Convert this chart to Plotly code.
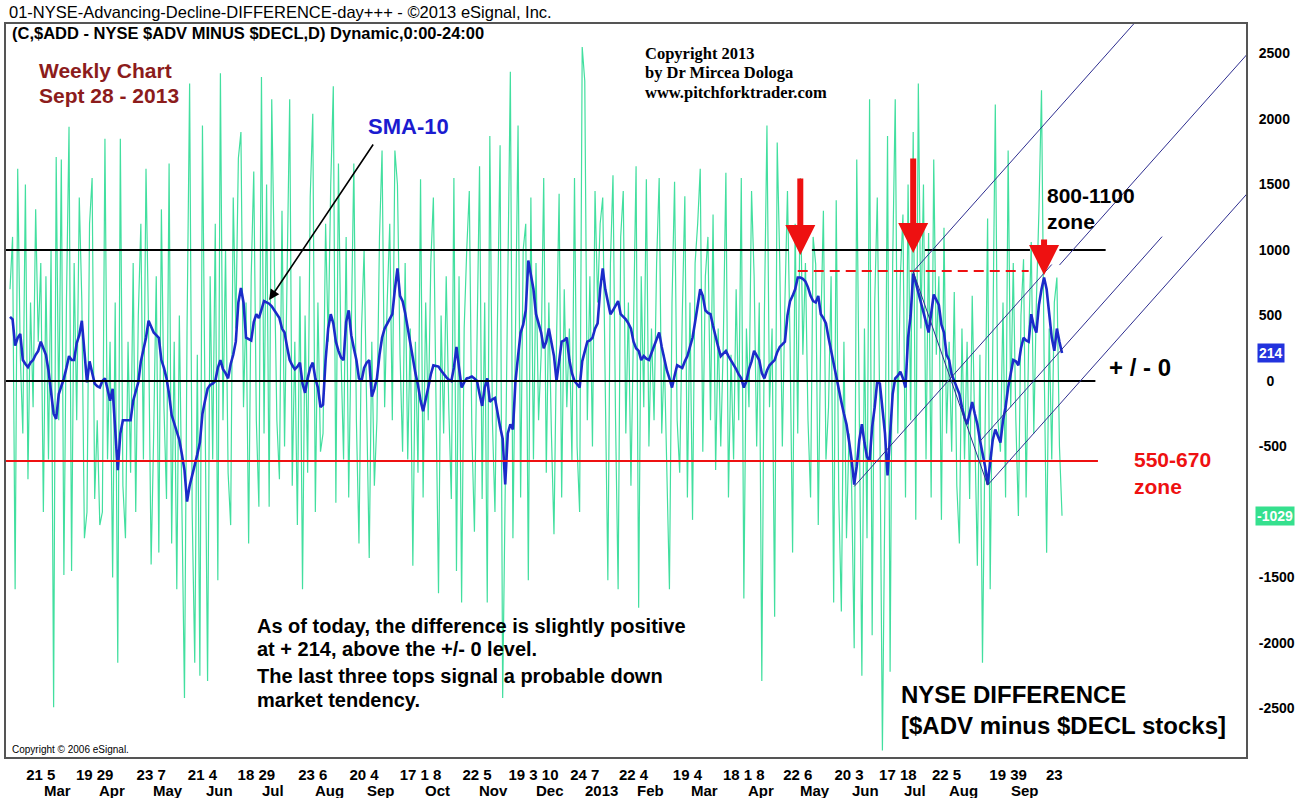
import plotly.graph_objects as go
import pandas as pd

# NYSE trading calendar, Feb 9 2012 - Sep 27 2013
holidays = ["2012-02-20", "2012-04-06", "2012-05-28", "2012-07-04", "2012-09-03",
            "2012-10-29", "2012-10-30", "2012-11-22", "2012-12-25", "2013-01-01",
            "2013-01-21", "2013-02-18", "2013-03-29", "2013-05-27", "2013-07-04",
            "2013-09-02"]
days = pd.bdate_range("2012-02-09", "2013-09-27")
days = days[~days.isin(pd.to_datetime(holidays))]
dates = [d.strftime("%Y-%m-%d") for d in days]

# daily $ADD (advancing minus declining issues), one list per month
add_2012_02 = [700, 1100, -1590, 1620, 200, -400, 1500, -750, 600, -200, 1310, 300, 900, -1000]
add_2012_03 = [800, -600, 1000, -2490, 1710, -300, 1690, -1480, 600, 1940, -1450, 900, -300, 1400,
               600, -1200, -1000, 1200, 1550, -900, -300, -1100]
add_2012_04 = [-1000, 1850, -600, 300, -1500, 600, -2150, 1850, -800, -1200, 300, -700, 900, -1000,
               500, 1200, -600, 1620, 400, -1400]
add_2012_05 = [-400, 800, -1310, 1310, -200, -900, 1660, -1240, 300, -1590, 500, -800, -2420, 400,
               2270, -1000, -2150, 200, -2250, 1950, -500, -2290]
add_2012_06 = [800, -600, 1200, -1520, 2350, -300, 1000, -700, -1100, 1400, 400, 1700, 1900, -200,
               600, -1240, 800, 1600, -300, -960, 2320]
add_2012_07 = [-400, 1500, -960, 2150, 800, -300, -750, 1300, -500, 900, 2150, -800, 300, -1100,
               800, -1590, 500, -700, 1400, 2040, -1000]
add_2012_08 = [600, -540, -400, 1200, 300, 1500, 2250, -930, 1660, 200, -600, 1100, -890, 600,
               1660, -300, -1240, 400, 1000, -200, -1350, 300, -800]
add_2012_09 = [-300, 1100, 1760, -200, 600, 1200, -300, 1760, 1500, 200, -540, 900, -600, 400,
               -1410, 300, -700, 1540, -890]
add_2012_10 = [600, -300, 900, 1400, -200, -1620, 500, -400, 800, -200, -900, 1550, -1450, 800,
               -1690, 400, 1000, 1450, -400, -1150, 300]
add_2012_11 = [1640, -900, 600, -1690, 1870, -300, -1000, 500, 1800, -2420, -800, 600, 2360, -1200,
               300, 1950, -890, 1000, 1200, -1520, 1400]
add_2012_12 = [-600, 900, -300, 200, 1550, -700, 600, -400, -1170, 300, 1430, -890, 700, -200,
               400, -610, 1550, -500, -1000, 2550]
add_2013_01 = [2290, -300, 800, -500, 1450, 600, 1200, 1400, -200, -1520, 900, 1570, -300, -1590,
               1100, 1450, -400, 600, -800, 300, 1640]
add_2013_02 = [-1730, 800, -200, 1540, -500, 400, -300, 900, 1550, -400, 200, -700, -1590, 600,
               1520, -300, -700, 500, 1410]
add_2013_03 = [-890, 600, -1060, 900, 1200, 1620, -540, 800, 1100, -300, 1270, -680, 400, -500,
               300, 1590, -890, 200, -600, 700]
add_2013_04 = [-300, 1550, -1660, 400, -200, 1450, 800, -500, 600, -2290, 500, 1950, -200, 400,
               -1800, 1820, 900, -500, 600, 1450, 300, -1310]
add_2013_05 = [1200, -400, 1550, 200, 900, -300, -890, 1100, 890, -1100, 400, 1300, -600, -200,
               800, -1690, 1380, -900, -1760, 300, -1200, -400]
add_2013_06 = [-800, -2040, 1690, -600, -2250, 400, -1200, 2150, -1940, 600, 1400, -300, -2820, -800,
               1870, -2220, 900, 2150, -400, 800]
add_2013_07 = [1270, -890, 1500, -300, 1900, -1060, 2270, 400, 1500, -600, 1130, -890, 1690, 200,
               800, -1060, 1170, -400, 300, -540, 680, -800]
add_2013_08 = [-1240, 400, -600, 300, -900, 650, -300, -1410, 200, -2150, -400, 1240, -1590, 400,
               2110, -300, -540, 600, -890, 1760, -200, 900]
add_2013_09 = [-300, -1030, 500, 930, -890, 300, 1060, -400, 600, 1300, 2220, 200, -1310, 400,
               -600, 600, 790, -500, -1029]

# SMA-10 of $ADD, as drawn
sma_2012_02 = [490, 470, 270, 330, 360, 160, 130, 105, 140, 160, 200, 230, 300, 250]
sma_2012_03 = [200, 80, -100, -250, -290, -100, -40, 20, 100, 190, 160, 160, 290, 350, 460, 230,
               -10, 150, 60, -20, -40, -50]
sma_2012_04 = [0, 20, -60, -150, -60, -400, -680, -400, -300, -300, -300, -300, -150, -80, -10,
               150, 250, 330, 460, 420]
sma_2012_05 = [370, 350, 330, 160, 100, 20, -100, -260, -330, -400, -450, -560, -680, -920, -800,
               -720, -650, -560, -470, -250, -150, -60]
sma_2012_06 = [-30, -20, 0, 100, 160, 90, 60, 20, 130, 200, 300, 600, 710, 600, 330, 320, 310,
               450, 510, 480, 540]
sma_2012_07 = [610, 600, 590, 570, 540, 510, 480, 400, 370, 260, 160, 120, 90, 110, 140, -20, -90,
               20, 100, 140, 20]
sma_2012_08 = [-50, -200, -180, 160, 400, 510, 440, 300, 230, 180, 160, 450, 540, 350, 250, 160,
               20, 0, 100, 140, 160, -120, -60]
sma_2012_09 = [20, 200, 330, 400, 440, 470, 510, 700, 860, 650, 610, 520, 400, 300, 180, 60, -30,
               -150, -230]
sma_2012_10 = [-150, -50, 50, 120, 115, 110, 80, 50, 30, 10, 0, 100, 260, 100, -50, -10, 20, 25,
               35, 20, 0]
sma_2012_11 = [-100, -190, -50, 20, -160, -140, -130, -250, -350, -440, -790, -400, -330, -370, 0,
               190, 370, 430, 540, 920, 800]
sma_2012_12 = [700, 510, 430, 370, 250, 300, 400, 300, 190, 0, 150, 300, 310, 330, 160, 60, 0,
               -30, -50, 150]
sma_2013_01 = [230, 300, 310, 330, 400, 440, 700, 860, 700, 600, 510, 540, 580, 610, 510, 490, 470,
               440, 400, 300, 250]
sma_2013_02 = [230, 160, 190, 170, 160, 210, 260, 320, 370, 260, 160, 80, 20, -50, 40, 120, 110,
               100, 150]
sma_2013_03 = [190, 260, 330, 450, 580, 700, 650, 540, 520, 510, 420, 330, 260, 190, 210, 230, 190,
               160, 120, 90]
sma_2013_04 = [50, 20, -50, 0, 90, 150, 230, 190, 160, 60, 20, 80, 120, 140, 160, 220, 260, 280,
               300, 500, 610, 650]
sma_2013_05 = [700, 790, 790, 780, 760, 715, 650, 610, 600, 650, 510, 480, 440, 330, 230, 120, 20,
               -80, -160, -250, -330, -460]
sma_2013_06 = [-600, -790, -650, -450, -330, -470, -580, -610, -350, -200, 0, -20, -200, -400, -720,
               -400, -100, 20, 40, 70]
sma_2013_07 = [20, -50, 330, 500, 820, 750, 680, 600, 540, 450, 370, 500, 660, 620, 580, 430, 370,
               200, 160, 50, 0, -60]
sma_2013_08 = [-100, -200, -280, -330, -250, -160, -250, -330, -450, -540, -650, -790, -600, -450,
               -370, -420, -470, -300, -200, -50, 50, 160]
sma_2013_09 = [150, 120, 250, 330, 310, 300, 510, 420, 370, 580, 700, 790, 700, 500, 330, 230, 400,
               300, 214]

months = ["2012-02", "2012-03", "2012-04", "2012-05", "2012-06", "2012-07", "2012-08",
          "2012-09", "2012-10", "2012-11", "2012-12", "2013-01", "2013-02", "2013-03",
          "2013-04", "2013-05", "2013-06", "2013-07", "2013-08", "2013-09"]
add_months = [add_2012_02, add_2012_03, add_2012_04, add_2012_05, add_2012_06, add_2012_07,
              add_2012_08, add_2012_09, add_2012_10, add_2012_11, add_2012_12, add_2013_01,
              add_2013_02, add_2013_03, add_2013_04, add_2013_05, add_2013_06, add_2013_07,
              add_2013_08, add_2013_09]
sma_months = [sma_2012_02, sma_2012_03, sma_2012_04, sma_2012_05, sma_2012_06, sma_2012_07,
              sma_2012_08, sma_2012_09, sma_2012_10, sma_2012_11, sma_2012_12, sma_2013_01,
              sma_2013_02, sma_2013_03, sma_2013_04, sma_2013_05, sma_2013_06, sma_2013_07,
              sma_2013_08, sma_2013_09]

# time-scale labels: day-number groups and the month names under them
tick_dates = ["2012-02-28", "2012-03-28", "2012-04-30", "2012-05-29", "2012-06-27", "2012-07-30",
              "2012-08-27", "2012-09-27", "2012-10-31", "2012-12-03", "2013-01-02", "2013-01-30",
              "2013-03-01", "2013-04-03", "2013-05-02", "2013-05-31", "2013-06-27", "2013-07-25",
              "2013-08-28", "2013-09-24"]
tick_labels = ["21 5", "19 29", "23 7", "21 4", "18 29", "23 6", "20 4", "17 1 8", "22 5",
               "19 3 10", "24 7", "22 4", "19 4", "18 1 8", "22 6", "20 3", "17 18", "22 5",
               "19 39", "23"]
month_labels = ["Mar", "Apr", "May", "Jun", "Jul", "Aug", "Sep", "Oct", "Nov", "Dec", "2013",
                "Feb", "Mar", "Apr", "May", "Jun", "Jul", "Aug", "Sep"]
y_ticks = [2500, 2000, 1500, 1000, 500, 0, -500, -1500, -2000, -2500]

# levels, the three tops and pitchfork pivots (A, B, C)
level_top = 1000
level_zero = 0
level_low = -610
tops_level = 840
top_dates = ["2013-05-03", "2013-07-08", "2013-09-18"]
pivot_dates = ["2013-06-04", "2013-07-08", "2013-08-16"]
pivot_values = [-805, 835, -795]
last_sma = 214
last_add = -1029

x_add, y_add, x_sma, y_sma = [], [], [], []
for m, a, s in zip(months, add_months, sma_months):
    idx = [i for i, d in enumerate(dates) if d.startswith(m)]
    if len(idx) != len(a) or len(idx) != len(s):
        print("length mismatch", m, len(idx), len(a), len(s))
    x_add += idx[:len(a)]
    y_add += a[:len(idx)]
    x_sma += idx[:len(s)]
    y_sma += s[:len(idx)]

n = len(dates)
di = dates.index

GREEN = "#42df9f"
BLUE = "#1b2bc9"
NAVY = "#2d2d8f"
RED = "#ee1111"
FONT = "Arial, Liberation Sans, sans-serif"
NARROW = "Liberation Sans Narrow, Arial Narrow, Arial, sans-serif"

fig = go.Figure()
fig.add_trace(go.Scatter(x=x_add, y=y_add, mode="lines",
                         line=dict(color=GREEN, width=1.2), hoverinfo="skip"))
fig.add_trace(go.Scatter(x=x_sma, y=y_sma, mode="lines",
                         line=dict(color=BLUE, width=2.6), hoverinfo="skip"))

# horizontal levels (the 1000 line is broken where the red arrows cross it)
t1, t2, t3 = [di(d) for d in top_dates]
for a, b in [(-3, t1 - 4.5), (t1 + 4.5, t2 - 4.5), (t2 + 4.5, t3 - 5.5), (t3 + 6, n + 16)]:
    fig.add_shape(type="line", x0=a, x1=b, y0=level_top, y1=level_top,
                  line=dict(color="black", width=2))
fig.add_shape(type="line", x0=-3, x1=n + 12, y0=level_zero, y1=level_zero,
              line=dict(color="black", width=2))
fig.add_shape(type="line", x0=-3, x1=n + 13, y0=level_low, y1=level_low,
              line=dict(color=RED, width=2))
fig.add_shape(type="line", x0=t1 - 1, x1=t3 - 6, y0=tops_level, y1=tops_level,
              line=dict(color=RED, width=2, dash="10px,6px"))

# pitchfork
ia, ib, ic = [di(d) for d in pivot_dates]
va, vb, vc = pivot_values
im, vm = (ib + ic) / 2, (vb + vc) / 2
slope = (vm - va) / (im - ia)
pf = dict(color=NAVY, width=1)
fig.add_shape(type="line", x0=ia, y0=va, x1=ia + 77, y1=va + slope * 77, line=pf)
fig.add_shape(type="line", x0=ib, y0=vb, x1=ib + 140, y1=vb + slope * 140, line=pf)
fig.add_shape(type="line", x0=ic, y0=vc, x1=ic + 120, y1=vc + slope * 120, line=pf)
fig.add_shape(type="line", x0=ib, y0=vb, x1=ic, y1=vc, line=pf)
fig.add_shape(type="line", x0=di("2013-08-13"), y0=-460, x1=di("2013-08-13") + 71,
              y1=-460 + slope * 71, line=pf)
fig.add_shape(type="line", x0=di("2013-09-26"), y0=885, x1=di("2013-09-26") + 90,
              y1=885 + slope * 90, line=pf)

anns = []
# red arrows at the three tops
for t, v, L in [(t1, 962, 78), (t2, 977, 96), (t3, 809, 37)]:
    anns.append(dict(x=t, y=v, xref="x", yref="y", ax=0, ay=-L, text="",
                     showarrow=True, arrowhead=2, arrowsize=1.0, arrowwidth=6,
                     arrowcolor=RED, standoff=0))
# SMA-10 pointer
anns.append(dict(x=di("2012-07-05"), y=618, xref="x", yref="y", ax=105, ay=-157, text="",
                 showarrow=True, arrowhead=2, arrowsize=1.3, arrowwidth=1.6,
                 arrowcolor="black", standoff=0))


def txt(x, y, s, size, color="black", bold=True, family=FONT):
    anns.append(dict(x=x, y=y, xref="paper", yref="paper", xanchor="left", yanchor="middle",
                     text=s, showarrow=False,
                     font=dict(size=size, color=color, family=family,
                               weight="bold" if bold else "normal")))


txt(0.0008, 1.0164, "01-NYSE-Advancing-Decline-DIFFERENCE-day+++ - ©2013 eSignal, Inc.", 16.5, bold=False)
txt(0.0032, 0.9877, "(C,$ADD - NYSE $ADV MINUS $DECL,D) Dynamic,0:00-24:00", 16.5)
txt(0.025, 0.9372, "Weekly Chart", 21, "#8c1c1c")
txt(0.025, 0.9018, "Sept 28 - 2013", 21, "#8c1c1c")
txt(0.2907, 0.8595, "SMA-10", 22, "#1b1bd0")
serif = "Liberation Serif, Times New Roman, serif"
txt(0.5137, 0.9591, "Copyright 2013", 16.5, family=serif)
txt(0.5137, 0.9332, "by Dr Mircea Dologa", 16.5, family=serif)
txt(0.5137, 0.9072, "www.pitchforktrader.com", 16.5, family=serif)
txt(0.8382, 0.7667, "800-1100", 21)
txt(0.8382, 0.7299, "zone", 21)
txt(0.8881, 0.5307, "+ / - 0", 24)
txt(0.9082, 0.4052, "550-670", 21, RED)
txt(0.9082, 0.3697, "zone", 21, RED)
txt(0.2005, 0.1787, "As of today, the difference is slightly positive", 20)
txt(0.2005, 0.1473, "at + 214, above the +/- 0 level.", 20)
txt(0.2005, 0.1105, "The last three tops signal a probable down", 20)
txt(0.2005, 0.0778, "market tendency.", 20)
txt(0.7198, 0.0846, "NYSE DIFFERENCE", 24)
txt(0.7198, 0.0423, "[$ADV minus $DECL stocks]", 24)
txt(0.0032, 0.0109, "Copyright © 2006 eSignal.", 10, bold=False)

# last-value badges on the price scale
anns.append(dict(x=1, y=last_sma, xref="paper", yref="y", xanchor="left", yanchor="middle",
                 xshift=11, text=str(last_sma), showarrow=False, bgcolor="#2233dd", borderpad=1,
                 font=dict(size=14, color="white", family=FONT, weight="bold")))
anns.append(dict(x=1, y=last_add, xref="paper", yref="y", xanchor="left", yanchor="middle",
                 xshift=9, text=str(last_add), showarrow=False, bgcolor="#35e08e", borderpad=1,
                 font=dict(size=14, color="white", family=FONT, weight="bold")))

# month names, set a little to the right of their day group
for d, lab in zip(tick_dates, month_labels):
    anns.append(dict(x=di(d) + 6.6, y=0, xref="x", yref="paper", xanchor="center", yanchor="top",
                     yshift=-23, text=lab, showarrow=False,
                     font=dict(size=15, color="black", family=NARROW, weight="bold")))

fig.update_layout(
    width=1309, height=798,
    margin=dict(l=4, r=63, t=24, b=41),
    plot_bgcolor="white", paper_bgcolor="white",
    showlegend=False,
    font=dict(family=FONT, color="black"),
    annotations=anns,
)
fig.update_xaxes(range=[-1.56, 481.7], showgrid=False, zeroline=False,
                 showline=True, mirror=True, linecolor="#555555", linewidth=2,
                 tickmode="array", tickvals=[di(d) for d in tick_dates],
                 ticktext=tick_labels, tickangle=0, ticks="",
                 ticklabelstandoff=3,
                 tickfont=dict(size=15, family=NARROW, color="black", weight="bold"))
fig.update_yaxes(range=[-2870, 2725], side="right", showgrid=False, zeroline=False,
                 showline=True, mirror=True, linecolor="#555555", linewidth=2,
                 tickmode="array", tickvals=y_ticks,
                 ticktext=["\u2007" + str(v) if v == 0 else str(v) for v in y_ticks],
                 ticks="", ticklabelstandoff=8,
                 tickfont=dict(size=14, family=FONT, color="black", weight="bold"))

fig.write_html("out.html", config={"displayModeBar": False},
               post_script="document.body.style.margin='0';document.body.style.overflow='hidden';")
